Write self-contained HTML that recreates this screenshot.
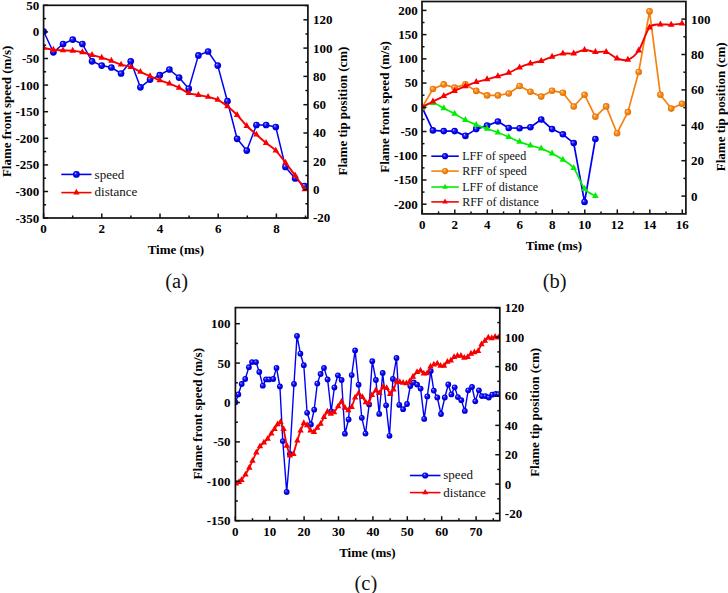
<!DOCTYPE html>
<html><head><meta charset="utf-8"><title>Flame front speed charts</title>
<style>
html,body{margin:0;padding:0;background:#fff;}
body{width:728px;height:593px;overflow:hidden;}
svg{display:block;font-family:"Liberation Serif", serif;}
</style></head><body>
<svg width="728" height="593" viewBox="0 0 728 593">
<rect width="728" height="593" fill="#fff"/>
<defs>
<clipPath id="ca"><rect x="43.6" y="5.3" width="264.3" height="212.7"/></clipPath>
<clipPath id="cb"><rect x="422.2" y="1.6" width="263.7" height="212.2"/></clipPath>
<clipPath id="cc"><rect x="235.4" y="307.6" width="264.4" height="213.1"/></clipPath>
<radialGradient id="gb" cx="0.5" cy="0.5" r="0.5" fx="0.33" fy="0.3">
<stop offset="0" stop-color="#e0e0ff"/><stop offset="0.28" stop-color="#3434ff"/><stop offset="0.65" stop-color="#0000f0"/><stop offset="1" stop-color="#0000c4"/>
</radialGradient>
<radialGradient id="go" cx="0.5" cy="0.5" r="0.5" fx="0.33" fy="0.3">
<stop offset="0" stop-color="#fff2dc"/><stop offset="0.28" stop-color="#ff9c3c"/><stop offset="0.65" stop-color="#f5820f"/><stop offset="1" stop-color="#d86c00"/>
</radialGradient>
</defs>
<g clip-path="url(#ca)">
<polyline points="43.7,31.5 53.37,52.3 63.04,44 72.71,39.6 82.38,44 92.05,61.3 101.72,65.6 111.39,67.5 121.06,73.5 130.73,61.3 140.4,87.3 150.07,79.6 159.74,75.2 169.41,69.5 179.08,77.6 188.75,88.7 198.42,55.4 208.09,51.5 217.76,65.6 227.43,101.2 237.1,138.8 246.77,150.6 256.44,125 266.11,125 275.78,127 285.45,166.9 295.12,178.4 304.79,186" fill="none" stroke="#0000f4" stroke-width="1.5" stroke-linejoin="round" stroke-linecap="round"/>
<circle cx="43.7" cy="31.5" r="3.35" fill="url(#gb)"/>
<circle cx="53.37" cy="52.3" r="3.35" fill="url(#gb)"/>
<circle cx="63.04" cy="44" r="3.35" fill="url(#gb)"/>
<circle cx="72.71" cy="39.6" r="3.35" fill="url(#gb)"/>
<circle cx="82.38" cy="44" r="3.35" fill="url(#gb)"/>
<circle cx="92.05" cy="61.3" r="3.35" fill="url(#gb)"/>
<circle cx="101.72" cy="65.6" r="3.35" fill="url(#gb)"/>
<circle cx="111.39" cy="67.5" r="3.35" fill="url(#gb)"/>
<circle cx="121.06" cy="73.5" r="3.35" fill="url(#gb)"/>
<circle cx="130.73" cy="61.3" r="3.35" fill="url(#gb)"/>
<circle cx="140.4" cy="87.3" r="3.35" fill="url(#gb)"/>
<circle cx="150.07" cy="79.6" r="3.35" fill="url(#gb)"/>
<circle cx="159.74" cy="75.2" r="3.35" fill="url(#gb)"/>
<circle cx="169.41" cy="69.5" r="3.35" fill="url(#gb)"/>
<circle cx="179.08" cy="77.6" r="3.35" fill="url(#gb)"/>
<circle cx="188.75" cy="88.7" r="3.35" fill="url(#gb)"/>
<circle cx="198.42" cy="55.4" r="3.35" fill="url(#gb)"/>
<circle cx="208.09" cy="51.5" r="3.35" fill="url(#gb)"/>
<circle cx="217.76" cy="65.6" r="3.35" fill="url(#gb)"/>
<circle cx="227.43" cy="101.2" r="3.35" fill="url(#gb)"/>
<circle cx="237.1" cy="138.8" r="3.35" fill="url(#gb)"/>
<circle cx="246.77" cy="150.6" r="3.35" fill="url(#gb)"/>
<circle cx="256.44" cy="125" r="3.35" fill="url(#gb)"/>
<circle cx="266.11" cy="125" r="3.35" fill="url(#gb)"/>
<circle cx="275.78" cy="127" r="3.35" fill="url(#gb)"/>
<circle cx="285.45" cy="166.9" r="3.35" fill="url(#gb)"/>
<circle cx="295.12" cy="178.4" r="3.35" fill="url(#gb)"/>
<circle cx="304.79" cy="186" r="3.35" fill="url(#gb)"/>
<path d="M43.7 47.9 C45.31 48.22 50.15 49.38 53.37 49.8 C56.59 50.22 59.82 50.23 63.04 50.4 C66.26 50.57 69.49 50.48 72.71 50.8 C75.93 51.12 79.16 51.6 82.38 52.3 C85.6 53 88.83 54.1 92.05 55 C95.27 55.9 98.5 56.73 101.72 57.7 C104.94 58.67 108.17 59.65 111.39 60.8 C114.61 61.95 117.84 63.55 121.06 64.6 C124.28 65.65 127.51 65.88 130.73 67.1 C133.95 68.32 137.18 70.38 140.4 71.9 C143.62 73.42 146.85 74.82 150.07 76.2 C153.29 77.58 156.52 78.97 159.74 80.2 C162.96 81.43 166.19 82.35 169.41 83.6 C172.63 84.85 175.86 86.12 179.08 87.7 C182.3 89.28 185.53 91.88 188.75 93.1 C191.97 94.32 195.2 94.37 198.42 95 C201.64 95.63 204.87 96.1 208.09 96.9 C211.31 97.7 214.54 98.25 217.76 99.8 C220.98 101.35 224.21 103.67 227.43 106.2 C230.65 108.73 233.88 111.7 237.1 115 C240.32 118.3 243.55 122.73 246.77 126 C249.99 129.27 253.22 131.77 256.44 134.6 C259.66 137.43 262.89 140.33 266.11 143 C269.33 145.67 272.56 147.32 275.78 150.6 C279 153.88 282.23 158.55 285.45 162.7 C288.67 166.85 291.9 171.05 295.12 175.5 C298.34 179.95 303.18 187.08 304.79 189.4" fill="none" stroke="#f80000" stroke-width="1.9" stroke-linejoin="round" stroke-linecap="round"/>
<path d="M43.7 43.97L46.95 49.87L40.45 49.87Z" fill="#f80000"/>
<path d="M53.37 45.87L56.62 51.77L50.12 51.77Z" fill="#f80000"/>
<path d="M63.04 46.47L66.29 52.37L59.79 52.37Z" fill="#f80000"/>
<path d="M72.71 46.87L75.96 52.77L69.46 52.77Z" fill="#f80000"/>
<path d="M82.38 48.37L85.63 54.27L79.13 54.27Z" fill="#f80000"/>
<path d="M92.05 51.07L95.3 56.97L88.8 56.97Z" fill="#f80000"/>
<path d="M101.72 53.77L104.97 59.67L98.47 59.67Z" fill="#f80000"/>
<path d="M111.39 56.87L114.64 62.77L108.14 62.77Z" fill="#f80000"/>
<path d="M121.06 60.67L124.31 66.57L117.81 66.57Z" fill="#f80000"/>
<path d="M130.73 63.17L133.98 69.07L127.48 69.07Z" fill="#f80000"/>
<path d="M140.4 67.97L143.65 73.87L137.15 73.87Z" fill="#f80000"/>
<path d="M150.07 72.27L153.32 78.17L146.82 78.17Z" fill="#f80000"/>
<path d="M159.74 76.27L162.99 82.17L156.49 82.17Z" fill="#f80000"/>
<path d="M169.41 79.67L172.66 85.57L166.16 85.57Z" fill="#f80000"/>
<path d="M179.08 83.77L182.33 89.67L175.83 89.67Z" fill="#f80000"/>
<path d="M188.75 89.17L192 95.07L185.5 95.07Z" fill="#f80000"/>
<path d="M198.42 91.07L201.67 96.97L195.17 96.97Z" fill="#f80000"/>
<path d="M208.09 92.97L211.34 98.87L204.84 98.87Z" fill="#f80000"/>
<path d="M217.76 95.87L221.01 101.77L214.51 101.77Z" fill="#f80000"/>
<path d="M227.43 102.27L230.68 108.17L224.18 108.17Z" fill="#f80000"/>
<path d="M237.1 111.07L240.35 116.97L233.85 116.97Z" fill="#f80000"/>
<path d="M246.77 122.07L250.02 127.97L243.52 127.97Z" fill="#f80000"/>
<path d="M256.44 130.67L259.69 136.57L253.19 136.57Z" fill="#f80000"/>
<path d="M266.11 139.07L269.36 144.97L262.86 144.97Z" fill="#f80000"/>
<path d="M275.78 146.67L279.03 152.57L272.53 152.57Z" fill="#f80000"/>
<path d="M285.45 158.77L288.7 164.67L282.2 164.67Z" fill="#f80000"/>
<path d="M295.12 171.57L298.37 177.47L291.87 177.47Z" fill="#f80000"/>
<path d="M304.79 185.47L308.04 191.37L301.54 191.37Z" fill="#f80000"/>
</g>
<rect x="43.6" y="5.3" width="264.3" height="212.7" fill="none" stroke="#111" stroke-width="1.7"/>
<line x1="43.6" y1="218.1" x2="48.1" y2="218.1" stroke="#111" stroke-width="1.5"/>
<line x1="43.6" y1="191.5" x2="48.1" y2="191.5" stroke="#111" stroke-width="1.5"/>
<line x1="43.6" y1="164.9" x2="48.1" y2="164.9" stroke="#111" stroke-width="1.5"/>
<line x1="43.6" y1="138.3" x2="48.1" y2="138.3" stroke="#111" stroke-width="1.5"/>
<line x1="43.6" y1="111.7" x2="48.1" y2="111.7" stroke="#111" stroke-width="1.5"/>
<line x1="43.6" y1="85.1" x2="48.1" y2="85.1" stroke="#111" stroke-width="1.5"/>
<line x1="43.6" y1="58.5" x2="48.1" y2="58.5" stroke="#111" stroke-width="1.5"/>
<line x1="43.6" y1="31.9" x2="48.1" y2="31.9" stroke="#111" stroke-width="1.5"/>
<line x1="43.6" y1="5.3" x2="48.1" y2="5.3" stroke="#111" stroke-width="1.5"/>
<line x1="43.6" y1="204.8" x2="46.1" y2="204.8" stroke="#111" stroke-width="1.5"/>
<line x1="43.6" y1="178.2" x2="46.1" y2="178.2" stroke="#111" stroke-width="1.5"/>
<line x1="43.6" y1="151.6" x2="46.1" y2="151.6" stroke="#111" stroke-width="1.5"/>
<line x1="43.6" y1="125" x2="46.1" y2="125" stroke="#111" stroke-width="1.5"/>
<line x1="43.6" y1="98.4" x2="46.1" y2="98.4" stroke="#111" stroke-width="1.5"/>
<line x1="43.6" y1="71.8" x2="46.1" y2="71.8" stroke="#111" stroke-width="1.5"/>
<line x1="43.6" y1="45.2" x2="46.1" y2="45.2" stroke="#111" stroke-width="1.5"/>
<line x1="43.6" y1="18.6" x2="46.1" y2="18.6" stroke="#111" stroke-width="1.5"/>
<line x1="43.6" y1="218" x2="43.6" y2="213.5" stroke="#111" stroke-width="1.5"/>
<line x1="101.8" y1="218" x2="101.8" y2="213.5" stroke="#111" stroke-width="1.5"/>
<line x1="160" y1="218" x2="160" y2="213.5" stroke="#111" stroke-width="1.5"/>
<line x1="218.2" y1="218" x2="218.2" y2="213.5" stroke="#111" stroke-width="1.5"/>
<line x1="276.4" y1="218" x2="276.4" y2="213.5" stroke="#111" stroke-width="1.5"/>
<line x1="72.7" y1="218" x2="72.7" y2="215.5" stroke="#111" stroke-width="1.5"/>
<line x1="130.9" y1="218" x2="130.9" y2="215.5" stroke="#111" stroke-width="1.5"/>
<line x1="189.1" y1="218" x2="189.1" y2="215.5" stroke="#111" stroke-width="1.5"/>
<line x1="247.3" y1="218" x2="247.3" y2="215.5" stroke="#111" stroke-width="1.5"/>
<line x1="305.5" y1="218" x2="305.5" y2="215.5" stroke="#111" stroke-width="1.5"/>
<line x1="307.9" y1="217.9" x2="303.4" y2="217.9" stroke="#111" stroke-width="1.5"/>
<line x1="307.9" y1="189.6" x2="303.4" y2="189.6" stroke="#111" stroke-width="1.5"/>
<line x1="307.9" y1="161.3" x2="303.4" y2="161.3" stroke="#111" stroke-width="1.5"/>
<line x1="307.9" y1="133" x2="303.4" y2="133" stroke="#111" stroke-width="1.5"/>
<line x1="307.9" y1="104.7" x2="303.4" y2="104.7" stroke="#111" stroke-width="1.5"/>
<line x1="307.9" y1="76.4" x2="303.4" y2="76.4" stroke="#111" stroke-width="1.5"/>
<line x1="307.9" y1="48.1" x2="303.4" y2="48.1" stroke="#111" stroke-width="1.5"/>
<line x1="307.9" y1="19.8" x2="303.4" y2="19.8" stroke="#111" stroke-width="1.5"/>
<line x1="307.9" y1="203.75" x2="305.4" y2="203.75" stroke="#111" stroke-width="1.5"/>
<line x1="307.9" y1="175.45" x2="305.4" y2="175.45" stroke="#111" stroke-width="1.5"/>
<line x1="307.9" y1="147.15" x2="305.4" y2="147.15" stroke="#111" stroke-width="1.5"/>
<line x1="307.9" y1="118.85" x2="305.4" y2="118.85" stroke="#111" stroke-width="1.5"/>
<line x1="307.9" y1="90.55" x2="305.4" y2="90.55" stroke="#111" stroke-width="1.5"/>
<line x1="307.9" y1="62.25" x2="305.4" y2="62.25" stroke="#111" stroke-width="1.5"/>
<line x1="307.9" y1="33.95" x2="305.4" y2="33.95" stroke="#111" stroke-width="1.5"/>
<line x1="307.9" y1="5.65" x2="305.4" y2="5.65" stroke="#111" stroke-width="1.5"/>
<text x="39.3" y="222.5" font-size="13" font-weight="bold" text-anchor="end" fill="#000">-350</text>
<text x="39.3" y="195.9" font-size="13" font-weight="bold" text-anchor="end" fill="#000">-300</text>
<text x="39.3" y="169.3" font-size="13" font-weight="bold" text-anchor="end" fill="#000">-250</text>
<text x="39.3" y="142.7" font-size="13" font-weight="bold" text-anchor="end" fill="#000">-200</text>
<text x="39.3" y="116.1" font-size="13" font-weight="bold" text-anchor="end" fill="#000">-150</text>
<text x="39.3" y="89.5" font-size="13" font-weight="bold" text-anchor="end" fill="#000">-100</text>
<text x="39.3" y="62.9" font-size="13" font-weight="bold" text-anchor="end" fill="#000">-50</text>
<text x="39.3" y="36.3" font-size="13" font-weight="bold" text-anchor="end" fill="#000">0</text>
<text x="39.3" y="9.7" font-size="13" font-weight="bold" text-anchor="end" fill="#000">50</text>
<text x="43.6" y="233" font-size="13" font-weight="bold" text-anchor="middle" fill="#000">0</text>
<text x="101.8" y="233" font-size="13" font-weight="bold" text-anchor="middle" fill="#000">2</text>
<text x="160" y="233" font-size="13" font-weight="bold" text-anchor="middle" fill="#000">4</text>
<text x="218.2" y="233" font-size="13" font-weight="bold" text-anchor="middle" fill="#000">6</text>
<text x="276.4" y="233" font-size="13" font-weight="bold" text-anchor="middle" fill="#000">8</text>
<text x="313" y="222.3" font-size="13" font-weight="bold" text-anchor="start" fill="#000">-20</text>
<text x="313" y="194" font-size="13" font-weight="bold" text-anchor="start" fill="#000">0</text>
<text x="313" y="165.7" font-size="13" font-weight="bold" text-anchor="start" fill="#000">20</text>
<text x="313" y="137.4" font-size="13" font-weight="bold" text-anchor="start" fill="#000">40</text>
<text x="313" y="109.1" font-size="13" font-weight="bold" text-anchor="start" fill="#000">60</text>
<text x="313" y="80.8" font-size="13" font-weight="bold" text-anchor="start" fill="#000">80</text>
<text x="313" y="52.5" font-size="13" font-weight="bold" text-anchor="start" fill="#000">100</text>
<text x="313" y="24.2" font-size="13" font-weight="bold" text-anchor="start" fill="#000">120</text>
<text x="175.9" y="254.2" font-size="13" font-weight="bold" text-anchor="middle" fill="#000">Time (ms)</text>
<text transform="translate(10.8 111.35) rotate(-90)" font-size="13" font-weight="bold" text-anchor="middle" fill="#000">Flame front speed (m/s)</text>
<text transform="translate(346.6 111) rotate(-90)" font-size="13" font-weight="bold" text-anchor="middle" fill="#000">Flame tip position (cm)</text>
<text x="176.6" y="288" font-size="20.5" font-weight="normal" text-anchor="middle" fill="#111">(a)</text>
<line x1="61.3" y1="174.4" x2="91.5" y2="174.4" stroke="#0000f4" stroke-width="1.6"/>
<circle cx="76.4" cy="174.4" r="3.4" fill="url(#gb)"/>
<text x="94.6" y="178.6" font-size="13" font-weight="normal" text-anchor="start" fill="#111">speed</text>
<line x1="61.3" y1="192.6" x2="91.5" y2="192.6" stroke="#f80000" stroke-width="1.6"/>
<path d="M76.4 188.87L79.6 194.47L73.2 194.47Z" fill="#f80000"/>
<text x="94.6" y="196.4" font-size="13" font-weight="normal" text-anchor="start" fill="#111">distance</text>
<g clip-path="url(#cb)">
<polyline points="422.1,107.4 432.93,130.4 443.76,131.1 454.59,131.1 465.42,135.9 476.25,129.1 487.08,125.6 497.91,121.5 508.74,128 519.57,128.2 530.4,127.3 541.23,119.5 552.06,129.1 562.89,134.3 573.72,143.1 584.55,202 595.38,139" fill="none" stroke="#0000f4" stroke-width="1.7" stroke-linejoin="round" stroke-linecap="round"/>
<circle cx="422.1" cy="107.4" r="3.3" fill="url(#gb)"/>
<circle cx="432.93" cy="130.4" r="3.3" fill="url(#gb)"/>
<circle cx="443.76" cy="131.1" r="3.3" fill="url(#gb)"/>
<circle cx="454.59" cy="131.1" r="3.3" fill="url(#gb)"/>
<circle cx="465.42" cy="135.9" r="3.3" fill="url(#gb)"/>
<circle cx="476.25" cy="129.1" r="3.3" fill="url(#gb)"/>
<circle cx="487.08" cy="125.6" r="3.3" fill="url(#gb)"/>
<circle cx="497.91" cy="121.5" r="3.3" fill="url(#gb)"/>
<circle cx="508.74" cy="128" r="3.3" fill="url(#gb)"/>
<circle cx="519.57" cy="128.2" r="3.3" fill="url(#gb)"/>
<circle cx="530.4" cy="127.3" r="3.3" fill="url(#gb)"/>
<circle cx="541.23" cy="119.5" r="3.3" fill="url(#gb)"/>
<circle cx="552.06" cy="129.1" r="3.3" fill="url(#gb)"/>
<circle cx="562.89" cy="134.3" r="3.3" fill="url(#gb)"/>
<circle cx="573.72" cy="143.1" r="3.3" fill="url(#gb)"/>
<circle cx="584.55" cy="202" r="3.3" fill="url(#gb)"/>
<circle cx="595.38" cy="139" r="3.3" fill="url(#gb)"/>
<polyline points="422.1,107.4 432.93,89 443.76,84.4 454.59,87.6 465.42,84.4 476.25,90.9 487.08,95.4 497.91,95.4 508.74,93.5 519.57,86 530.4,91.8 541.23,96.6 552.06,90.7 562.89,92.8 573.72,106.5 584.55,94.7 595.38,116.8 606.21,106.4 617.04,133.2 627.87,112.1 638.7,72 649.53,11.4 660.36,94.8 671.19,108.6 682.02,103.75" fill="none" stroke="#f5820f" stroke-width="1.7" stroke-linejoin="round" stroke-linecap="round"/>
<circle cx="422.1" cy="107.4" r="3.3" fill="url(#go)"/>
<circle cx="432.93" cy="89" r="3.3" fill="url(#go)"/>
<circle cx="443.76" cy="84.4" r="3.3" fill="url(#go)"/>
<circle cx="454.59" cy="87.6" r="3.3" fill="url(#go)"/>
<circle cx="465.42" cy="84.4" r="3.3" fill="url(#go)"/>
<circle cx="476.25" cy="90.9" r="3.3" fill="url(#go)"/>
<circle cx="487.08" cy="95.4" r="3.3" fill="url(#go)"/>
<circle cx="497.91" cy="95.4" r="3.3" fill="url(#go)"/>
<circle cx="508.74" cy="93.5" r="3.3" fill="url(#go)"/>
<circle cx="519.57" cy="86" r="3.3" fill="url(#go)"/>
<circle cx="530.4" cy="91.8" r="3.3" fill="url(#go)"/>
<circle cx="541.23" cy="96.6" r="3.3" fill="url(#go)"/>
<circle cx="552.06" cy="90.7" r="3.3" fill="url(#go)"/>
<circle cx="562.89" cy="92.8" r="3.3" fill="url(#go)"/>
<circle cx="573.72" cy="106.5" r="3.3" fill="url(#go)"/>
<circle cx="584.55" cy="94.7" r="3.3" fill="url(#go)"/>
<circle cx="595.38" cy="116.8" r="3.3" fill="url(#go)"/>
<circle cx="606.21" cy="106.4" r="3.3" fill="url(#go)"/>
<circle cx="617.04" cy="133.2" r="3.3" fill="url(#go)"/>
<circle cx="627.87" cy="112.1" r="3.3" fill="url(#go)"/>
<circle cx="638.7" cy="72" r="3.3" fill="url(#go)"/>
<circle cx="649.53" cy="11.4" r="3.3" fill="url(#go)"/>
<circle cx="660.36" cy="94.8" r="3.3" fill="url(#go)"/>
<circle cx="671.19" cy="108.6" r="3.3" fill="url(#go)"/>
<circle cx="682.02" cy="103.75" r="3.3" fill="url(#go)"/>
<path d="M422.1 107.4 C423.91 106.67 429.32 102.87 432.93 103 C436.54 103.13 440.15 106.42 443.76 108.2 C447.37 109.98 450.98 111.72 454.59 113.7 C458.2 115.68 461.81 118.23 465.42 120.1 C469.03 121.97 472.64 123.45 476.25 124.9 C479.86 126.35 483.47 127.53 487.08 128.8 C490.69 130.07 494.3 131.13 497.91 132.5 C501.52 133.87 505.13 135.47 508.74 137 C512.35 138.53 515.96 140.28 519.57 141.7 C523.18 143.12 526.79 144.35 530.4 145.5 C534.01 146.65 537.62 147.28 541.23 148.6 C544.84 149.92 548.45 151.55 552.06 153.4 C555.67 155.25 559.28 157.25 562.89 159.7 C566.5 162.15 570.11 163.27 573.72 168.1 C577.33 172.93 580.94 184.03 584.55 188.7 C588.16 193.37 593.58 194.87 595.38 196.1" fill="none" stroke="#00ee00" stroke-width="1.7" stroke-linejoin="round" stroke-linecap="round"/>
<path d="M422.1 103.4L425.4 109.4L418.8 109.4Z" fill="#00ee00"/>
<path d="M432.93 99L436.23 105L429.63 105Z" fill="#00ee00"/>
<path d="M443.76 104.2L447.06 110.2L440.46 110.2Z" fill="#00ee00"/>
<path d="M454.59 109.7L457.89 115.7L451.29 115.7Z" fill="#00ee00"/>
<path d="M465.42 116.1L468.72 122.1L462.12 122.1Z" fill="#00ee00"/>
<path d="M476.25 120.9L479.55 126.9L472.95 126.9Z" fill="#00ee00"/>
<path d="M487.08 124.8L490.38 130.8L483.78 130.8Z" fill="#00ee00"/>
<path d="M497.91 128.5L501.21 134.5L494.61 134.5Z" fill="#00ee00"/>
<path d="M508.74 133L512.04 139L505.44 139Z" fill="#00ee00"/>
<path d="M519.57 137.7L522.87 143.7L516.27 143.7Z" fill="#00ee00"/>
<path d="M530.4 141.5L533.7 147.5L527.1 147.5Z" fill="#00ee00"/>
<path d="M541.23 144.6L544.53 150.6L537.93 150.6Z" fill="#00ee00"/>
<path d="M552.06 149.4L555.36 155.4L548.76 155.4Z" fill="#00ee00"/>
<path d="M562.89 155.7L566.19 161.7L559.59 161.7Z" fill="#00ee00"/>
<path d="M573.72 164.1L577.02 170.1L570.42 170.1Z" fill="#00ee00"/>
<path d="M584.55 184.7L587.85 190.7L581.25 190.7Z" fill="#00ee00"/>
<path d="M595.38 192.1L598.68 198.1L592.08 198.1Z" fill="#00ee00"/>
<path d="M422.1 106.8 C423.91 105.93 429.32 103.38 432.93 101.6 C436.54 99.82 440.15 97.88 443.76 96.1 C447.37 94.32 450.98 92.55 454.59 90.9 C458.2 89.25 461.81 87.67 465.42 86.2 C469.03 84.73 472.64 83.25 476.25 82.1 C479.86 80.95 483.47 80.28 487.08 79.3 C490.69 78.32 494.3 77.28 497.91 76.2 C501.52 75.12 505.13 74.27 508.74 72.8 C512.35 71.33 515.96 68.97 519.57 67.4 C523.18 65.83 526.79 64.47 530.4 63.4 C534.01 62.33 537.62 62.1 541.23 61 C544.84 59.9 548.45 58.03 552.06 56.8 C555.67 55.57 559.28 54.17 562.89 53.6 C566.5 53.03 570.11 54.02 573.72 53.4 C577.33 52.78 580.94 50.12 584.55 49.9 C588.16 49.68 591.77 51.77 595.38 52.1 C598.99 52.43 602.6 50.85 606.21 51.9 C609.82 52.95 613.43 57.08 617.04 58.4 C620.65 59.72 624.26 61.12 627.87 59.8 C631.48 58.48 635.09 55.88 638.7 50.5 C642.31 45.12 645.92 31.83 649.53 27.5 C653.14 23.17 656.75 24.97 660.36 24.5 C663.97 24.03 667.58 24.85 671.19 24.7 C674.8 24.55 680.22 23.78 682.02 23.6" fill="none" stroke="#f80000" stroke-width="1.9" stroke-linejoin="round" stroke-linecap="round"/>
<path d="M422.1 102.8L425.4 108.8L418.8 108.8Z" fill="#f80000"/>
<path d="M432.93 97.6L436.23 103.6L429.63 103.6Z" fill="#f80000"/>
<path d="M443.76 92.1L447.06 98.1L440.46 98.1Z" fill="#f80000"/>
<path d="M454.59 86.9L457.89 92.9L451.29 92.9Z" fill="#f80000"/>
<path d="M465.42 82.2L468.72 88.2L462.12 88.2Z" fill="#f80000"/>
<path d="M476.25 78.1L479.55 84.1L472.95 84.1Z" fill="#f80000"/>
<path d="M487.08 75.3L490.38 81.3L483.78 81.3Z" fill="#f80000"/>
<path d="M497.91 72.2L501.21 78.2L494.61 78.2Z" fill="#f80000"/>
<path d="M508.74 68.8L512.04 74.8L505.44 74.8Z" fill="#f80000"/>
<path d="M519.57 63.4L522.87 69.4L516.27 69.4Z" fill="#f80000"/>
<path d="M530.4 59.4L533.7 65.4L527.1 65.4Z" fill="#f80000"/>
<path d="M541.23 57L544.53 63L537.93 63Z" fill="#f80000"/>
<path d="M552.06 52.8L555.36 58.8L548.76 58.8Z" fill="#f80000"/>
<path d="M562.89 49.6L566.19 55.6L559.59 55.6Z" fill="#f80000"/>
<path d="M573.72 49.4L577.02 55.4L570.42 55.4Z" fill="#f80000"/>
<path d="M584.55 45.9L587.85 51.9L581.25 51.9Z" fill="#f80000"/>
<path d="M595.38 48.1L598.68 54.1L592.08 54.1Z" fill="#f80000"/>
<path d="M606.21 47.9L609.51 53.9L602.91 53.9Z" fill="#f80000"/>
<path d="M617.04 54.4L620.34 60.4L613.74 60.4Z" fill="#f80000"/>
<path d="M627.87 55.8L631.17 61.8L624.57 61.8Z" fill="#f80000"/>
<path d="M638.7 46.5L642 52.5L635.4 52.5Z" fill="#f80000"/>
<path d="M649.53 23.5L652.83 29.5L646.23 29.5Z" fill="#f80000"/>
<path d="M660.36 20.5L663.66 26.5L657.06 26.5Z" fill="#f80000"/>
<path d="M671.19 20.7L674.49 26.7L667.89 26.7Z" fill="#f80000"/>
<path d="M682.02 19.6L685.32 25.6L678.72 25.6Z" fill="#f80000"/>
</g>
<rect x="422" y="1.5" width="263.9" height="212.4" fill="none" stroke="#111" stroke-width="1.7"/>
<line x1="422" y1="204.2" x2="426.5" y2="204.2" stroke="#111" stroke-width="1.5"/>
<line x1="422" y1="179.97" x2="426.5" y2="179.97" stroke="#111" stroke-width="1.5"/>
<line x1="422" y1="155.75" x2="426.5" y2="155.75" stroke="#111" stroke-width="1.5"/>
<line x1="422" y1="131.53" x2="426.5" y2="131.53" stroke="#111" stroke-width="1.5"/>
<line x1="422" y1="107.3" x2="426.5" y2="107.3" stroke="#111" stroke-width="1.5"/>
<line x1="422" y1="83.07" x2="426.5" y2="83.07" stroke="#111" stroke-width="1.5"/>
<line x1="422" y1="58.85" x2="426.5" y2="58.85" stroke="#111" stroke-width="1.5"/>
<line x1="422" y1="34.62" x2="426.5" y2="34.62" stroke="#111" stroke-width="1.5"/>
<line x1="422" y1="10.4" x2="426.5" y2="10.4" stroke="#111" stroke-width="1.5"/>
<line x1="422" y1="192.09" x2="424.5" y2="192.09" stroke="#111" stroke-width="1.5"/>
<line x1="422" y1="167.86" x2="424.5" y2="167.86" stroke="#111" stroke-width="1.5"/>
<line x1="422" y1="143.64" x2="424.5" y2="143.64" stroke="#111" stroke-width="1.5"/>
<line x1="422" y1="119.41" x2="424.5" y2="119.41" stroke="#111" stroke-width="1.5"/>
<line x1="422" y1="95.19" x2="424.5" y2="95.19" stroke="#111" stroke-width="1.5"/>
<line x1="422" y1="70.96" x2="424.5" y2="70.96" stroke="#111" stroke-width="1.5"/>
<line x1="422" y1="46.74" x2="424.5" y2="46.74" stroke="#111" stroke-width="1.5"/>
<line x1="422" y1="22.51" x2="424.5" y2="22.51" stroke="#111" stroke-width="1.5"/>
<line x1="422.3" y1="213.9" x2="422.3" y2="209.4" stroke="#111" stroke-width="1.5"/>
<line x1="454.8" y1="213.9" x2="454.8" y2="209.4" stroke="#111" stroke-width="1.5"/>
<line x1="487.3" y1="213.9" x2="487.3" y2="209.4" stroke="#111" stroke-width="1.5"/>
<line x1="519.8" y1="213.9" x2="519.8" y2="209.4" stroke="#111" stroke-width="1.5"/>
<line x1="552.3" y1="213.9" x2="552.3" y2="209.4" stroke="#111" stroke-width="1.5"/>
<line x1="584.8" y1="213.9" x2="584.8" y2="209.4" stroke="#111" stroke-width="1.5"/>
<line x1="617.3" y1="213.9" x2="617.3" y2="209.4" stroke="#111" stroke-width="1.5"/>
<line x1="649.8" y1="213.9" x2="649.8" y2="209.4" stroke="#111" stroke-width="1.5"/>
<line x1="682.3" y1="213.9" x2="682.3" y2="209.4" stroke="#111" stroke-width="1.5"/>
<line x1="438.55" y1="213.9" x2="438.55" y2="211.4" stroke="#111" stroke-width="1.5"/>
<line x1="471.05" y1="213.9" x2="471.05" y2="211.4" stroke="#111" stroke-width="1.5"/>
<line x1="503.55" y1="213.9" x2="503.55" y2="211.4" stroke="#111" stroke-width="1.5"/>
<line x1="536.05" y1="213.9" x2="536.05" y2="211.4" stroke="#111" stroke-width="1.5"/>
<line x1="568.55" y1="213.9" x2="568.55" y2="211.4" stroke="#111" stroke-width="1.5"/>
<line x1="601.05" y1="213.9" x2="601.05" y2="211.4" stroke="#111" stroke-width="1.5"/>
<line x1="633.55" y1="213.9" x2="633.55" y2="211.4" stroke="#111" stroke-width="1.5"/>
<line x1="666.05" y1="213.9" x2="666.05" y2="211.4" stroke="#111" stroke-width="1.5"/>
<line x1="685.9" y1="196.1" x2="681.4" y2="196.1" stroke="#111" stroke-width="1.5"/>
<line x1="685.9" y1="160.7" x2="681.4" y2="160.7" stroke="#111" stroke-width="1.5"/>
<line x1="685.9" y1="125.3" x2="681.4" y2="125.3" stroke="#111" stroke-width="1.5"/>
<line x1="685.9" y1="89.9" x2="681.4" y2="89.9" stroke="#111" stroke-width="1.5"/>
<line x1="685.9" y1="54.5" x2="681.4" y2="54.5" stroke="#111" stroke-width="1.5"/>
<line x1="685.9" y1="19.1" x2="681.4" y2="19.1" stroke="#111" stroke-width="1.5"/>
<line x1="685.9" y1="178.4" x2="683.4" y2="178.4" stroke="#111" stroke-width="1.5"/>
<line x1="685.9" y1="143" x2="683.4" y2="143" stroke="#111" stroke-width="1.5"/>
<line x1="685.9" y1="107.6" x2="683.4" y2="107.6" stroke="#111" stroke-width="1.5"/>
<line x1="685.9" y1="72.2" x2="683.4" y2="72.2" stroke="#111" stroke-width="1.5"/>
<line x1="685.9" y1="36.8" x2="683.4" y2="36.8" stroke="#111" stroke-width="1.5"/>
<text x="417.8" y="208.6" font-size="13" font-weight="bold" text-anchor="end" fill="#000">-200</text>
<text x="417.8" y="184.38" font-size="13" font-weight="bold" text-anchor="end" fill="#000">-150</text>
<text x="417.8" y="160.15" font-size="13" font-weight="bold" text-anchor="end" fill="#000">-100</text>
<text x="417.8" y="135.93" font-size="13" font-weight="bold" text-anchor="end" fill="#000">-50</text>
<text x="417.8" y="111.7" font-size="13" font-weight="bold" text-anchor="end" fill="#000">0</text>
<text x="417.8" y="87.47" font-size="13" font-weight="bold" text-anchor="end" fill="#000">50</text>
<text x="417.8" y="63.25" font-size="13" font-weight="bold" text-anchor="end" fill="#000">100</text>
<text x="417.8" y="39.02" font-size="13" font-weight="bold" text-anchor="end" fill="#000">150</text>
<text x="417.8" y="14.8" font-size="13" font-weight="bold" text-anchor="end" fill="#000">200</text>
<text x="422.3" y="229.1" font-size="13" font-weight="bold" text-anchor="middle" fill="#000">0</text>
<text x="454.8" y="229.1" font-size="13" font-weight="bold" text-anchor="middle" fill="#000">2</text>
<text x="487.3" y="229.1" font-size="13" font-weight="bold" text-anchor="middle" fill="#000">4</text>
<text x="519.8" y="229.1" font-size="13" font-weight="bold" text-anchor="middle" fill="#000">6</text>
<text x="552.3" y="229.1" font-size="13" font-weight="bold" text-anchor="middle" fill="#000">8</text>
<text x="584.8" y="229.1" font-size="13" font-weight="bold" text-anchor="middle" fill="#000">10</text>
<text x="617.3" y="229.1" font-size="13" font-weight="bold" text-anchor="middle" fill="#000">12</text>
<text x="649.8" y="229.1" font-size="13" font-weight="bold" text-anchor="middle" fill="#000">14</text>
<text x="682.3" y="229.1" font-size="13" font-weight="bold" text-anchor="middle" fill="#000">16</text>
<text x="691" y="200.5" font-size="13" font-weight="bold" text-anchor="start" fill="#000">0</text>
<text x="691" y="165.1" font-size="13" font-weight="bold" text-anchor="start" fill="#000">20</text>
<text x="691" y="129.7" font-size="13" font-weight="bold" text-anchor="start" fill="#000">40</text>
<text x="691" y="94.3" font-size="13" font-weight="bold" text-anchor="start" fill="#000">60</text>
<text x="691" y="58.9" font-size="13" font-weight="bold" text-anchor="start" fill="#000">80</text>
<text x="691" y="23.5" font-size="13" font-weight="bold" text-anchor="start" fill="#000">100</text>
<text x="553.9" y="250.4" font-size="13" font-weight="bold" text-anchor="middle" fill="#000">Time (ms)</text>
<text transform="translate(388.6 107) rotate(-90)" font-size="13" font-weight="bold" text-anchor="middle" fill="#000">Flame front speed (m/s)</text>
<text transform="translate(724.9 106.8) rotate(-90)" font-size="13" font-weight="bold" text-anchor="middle" fill="#000">Flame tip position (cm)</text>
<text x="554.6" y="288" font-size="20.5" font-weight="normal" text-anchor="middle" fill="#111">(b)</text>
<line x1="431.3" y1="156.2" x2="458.8" y2="156.2" stroke="#0000f4" stroke-width="1.6"/>
<circle cx="445.05" cy="156.2" r="3.1" fill="url(#gb)"/>
<text x="462.2" y="160.2" font-size="12" font-weight="normal" text-anchor="start" fill="#111">LFF of speed</text>
<line x1="431.3" y1="171.1" x2="458.8" y2="171.1" stroke="#f5820f" stroke-width="1.6"/>
<circle cx="445.05" cy="171.1" r="3.1" fill="url(#go)"/>
<text x="462.2" y="175.1" font-size="12" font-weight="normal" text-anchor="start" fill="#111">RFF of speed</text>
<line x1="431.3" y1="187" x2="458.8" y2="187" stroke="#00ee00" stroke-width="1.6"/>
<path d="M445.05 183.67L447.85 188.67L442.25 188.67Z" fill="#00ee00"/>
<text x="462.2" y="191" font-size="12" font-weight="normal" text-anchor="start" fill="#111">LFF of distance</text>
<line x1="431.3" y1="201.9" x2="458.8" y2="201.9" stroke="#f80000" stroke-width="1.6"/>
<path d="M445.05 198.57L447.85 203.57L442.25 203.57Z" fill="#f80000"/>
<text x="462.2" y="205.9" font-size="12" font-weight="normal" text-anchor="start" fill="#111">RFF of distance</text>
<g clip-path="url(#cc)">
<polyline points="235.5,402.3 238.3,394.5 241.7,384 245.2,379 248.9,367.2 252,362.1 256,362.1 259.3,372 262.8,385.7 266,379.4 269.1,379.4 273.2,379 276.5,367.9 279.9,386.5 282.8,441.1 286.7,492 289.9,454 294,384 297,335.9 300.4,353.7 303.8,365.2 307.1,412.8 310.9,424.5 314.2,409.7 317.3,383.6 320.6,374 324,367.9 327.6,379.5 331.2,411.3 334.4,387.5 337.9,375.3 341.6,380 344.9,433.7 348.6,419.5 351.7,375.1 355.1,350.4 358.6,384.7 361.8,417.8 365.5,433.6 369.2,404.4 372.3,361.2 375.9,380 379.2,413.9 382.7,373 386.1,405.3 389.5,435.8 392.9,378.9 396.5,358 399.3,404.9 403.1,409.2 407,404 410.3,386 413.8,382.5 417.1,384.6 420.6,388.6 424.2,418.9 427.3,396.4 430.8,371.1 433.8,390.6 437.3,397.5 441,414 444.8,397.5 448.3,384.5 451.4,394.4 454.7,387.3 457.9,397.1 461.3,400.2 464.8,410.9 468.2,390.3 472,387 475.3,401.3 478.9,390.3 481.9,396.1 485.4,396.1 488.8,397.5 492.2,394.7 495.7,394 498.6,394.2" fill="none" stroke="#0000f4" stroke-width="1.4" stroke-linejoin="round" stroke-linecap="round"/>
<circle cx="235.5" cy="402.3" r="2.9" fill="url(#gb)"/>
<circle cx="238.3" cy="394.5" r="2.9" fill="url(#gb)"/>
<circle cx="241.7" cy="384" r="2.9" fill="url(#gb)"/>
<circle cx="245.2" cy="379" r="2.9" fill="url(#gb)"/>
<circle cx="248.9" cy="367.2" r="2.9" fill="url(#gb)"/>
<circle cx="252" cy="362.1" r="2.9" fill="url(#gb)"/>
<circle cx="256" cy="362.1" r="2.9" fill="url(#gb)"/>
<circle cx="259.3" cy="372" r="2.9" fill="url(#gb)"/>
<circle cx="262.8" cy="385.7" r="2.9" fill="url(#gb)"/>
<circle cx="266" cy="379.4" r="2.9" fill="url(#gb)"/>
<circle cx="269.1" cy="379.4" r="2.9" fill="url(#gb)"/>
<circle cx="273.2" cy="379" r="2.9" fill="url(#gb)"/>
<circle cx="276.5" cy="367.9" r="2.9" fill="url(#gb)"/>
<circle cx="279.9" cy="386.5" r="2.9" fill="url(#gb)"/>
<circle cx="282.8" cy="441.1" r="2.9" fill="url(#gb)"/>
<circle cx="286.7" cy="492" r="2.9" fill="url(#gb)"/>
<circle cx="289.9" cy="454" r="2.9" fill="url(#gb)"/>
<circle cx="294" cy="384" r="2.9" fill="url(#gb)"/>
<circle cx="297" cy="335.9" r="2.9" fill="url(#gb)"/>
<circle cx="300.4" cy="353.7" r="2.9" fill="url(#gb)"/>
<circle cx="303.8" cy="365.2" r="2.9" fill="url(#gb)"/>
<circle cx="307.1" cy="412.8" r="2.9" fill="url(#gb)"/>
<circle cx="310.9" cy="424.5" r="2.9" fill="url(#gb)"/>
<circle cx="314.2" cy="409.7" r="2.9" fill="url(#gb)"/>
<circle cx="317.3" cy="383.6" r="2.9" fill="url(#gb)"/>
<circle cx="320.6" cy="374" r="2.9" fill="url(#gb)"/>
<circle cx="324" cy="367.9" r="2.9" fill="url(#gb)"/>
<circle cx="327.6" cy="379.5" r="2.9" fill="url(#gb)"/>
<circle cx="331.2" cy="411.3" r="2.9" fill="url(#gb)"/>
<circle cx="334.4" cy="387.5" r="2.9" fill="url(#gb)"/>
<circle cx="337.9" cy="375.3" r="2.9" fill="url(#gb)"/>
<circle cx="341.6" cy="380" r="2.9" fill="url(#gb)"/>
<circle cx="344.9" cy="433.7" r="2.9" fill="url(#gb)"/>
<circle cx="348.6" cy="419.5" r="2.9" fill="url(#gb)"/>
<circle cx="351.7" cy="375.1" r="2.9" fill="url(#gb)"/>
<circle cx="355.1" cy="350.4" r="2.9" fill="url(#gb)"/>
<circle cx="358.6" cy="384.7" r="2.9" fill="url(#gb)"/>
<circle cx="361.8" cy="417.8" r="2.9" fill="url(#gb)"/>
<circle cx="365.5" cy="433.6" r="2.9" fill="url(#gb)"/>
<circle cx="369.2" cy="404.4" r="2.9" fill="url(#gb)"/>
<circle cx="372.3" cy="361.2" r="2.9" fill="url(#gb)"/>
<circle cx="375.9" cy="380" r="2.9" fill="url(#gb)"/>
<circle cx="379.2" cy="413.9" r="2.9" fill="url(#gb)"/>
<circle cx="382.7" cy="373" r="2.9" fill="url(#gb)"/>
<circle cx="386.1" cy="405.3" r="2.9" fill="url(#gb)"/>
<circle cx="389.5" cy="435.8" r="2.9" fill="url(#gb)"/>
<circle cx="392.9" cy="378.9" r="2.9" fill="url(#gb)"/>
<circle cx="396.5" cy="358" r="2.9" fill="url(#gb)"/>
<circle cx="399.3" cy="404.9" r="2.9" fill="url(#gb)"/>
<circle cx="403.1" cy="409.2" r="2.9" fill="url(#gb)"/>
<circle cx="407" cy="404" r="2.9" fill="url(#gb)"/>
<circle cx="410.3" cy="386" r="2.9" fill="url(#gb)"/>
<circle cx="413.8" cy="382.5" r="2.9" fill="url(#gb)"/>
<circle cx="417.1" cy="384.6" r="2.9" fill="url(#gb)"/>
<circle cx="420.6" cy="388.6" r="2.9" fill="url(#gb)"/>
<circle cx="424.2" cy="418.9" r="2.9" fill="url(#gb)"/>
<circle cx="427.3" cy="396.4" r="2.9" fill="url(#gb)"/>
<circle cx="430.8" cy="371.1" r="2.9" fill="url(#gb)"/>
<circle cx="433.8" cy="390.6" r="2.9" fill="url(#gb)"/>
<circle cx="437.3" cy="397.5" r="2.9" fill="url(#gb)"/>
<circle cx="441" cy="414" r="2.9" fill="url(#gb)"/>
<circle cx="444.8" cy="397.5" r="2.9" fill="url(#gb)"/>
<circle cx="448.3" cy="384.5" r="2.9" fill="url(#gb)"/>
<circle cx="451.4" cy="394.4" r="2.9" fill="url(#gb)"/>
<circle cx="454.7" cy="387.3" r="2.9" fill="url(#gb)"/>
<circle cx="457.9" cy="397.1" r="2.9" fill="url(#gb)"/>
<circle cx="461.3" cy="400.2" r="2.9" fill="url(#gb)"/>
<circle cx="464.8" cy="410.9" r="2.9" fill="url(#gb)"/>
<circle cx="468.2" cy="390.3" r="2.9" fill="url(#gb)"/>
<circle cx="472" cy="387" r="2.9" fill="url(#gb)"/>
<circle cx="475.3" cy="401.3" r="2.9" fill="url(#gb)"/>
<circle cx="478.9" cy="390.3" r="2.9" fill="url(#gb)"/>
<circle cx="481.9" cy="396.1" r="2.9" fill="url(#gb)"/>
<circle cx="485.4" cy="396.1" r="2.9" fill="url(#gb)"/>
<circle cx="488.8" cy="397.5" r="2.9" fill="url(#gb)"/>
<circle cx="492.2" cy="394.7" r="2.9" fill="url(#gb)"/>
<circle cx="495.7" cy="394" r="2.9" fill="url(#gb)"/>
<circle cx="498.6" cy="394.2" r="2.9" fill="url(#gb)"/>
<polyline points="236,483.6 239,482 241.5,480 245.5,474.5 249.3,467.7 252.5,460.9 256.3,452.5 260,446.4 263.9,442.6 267.7,438.8 271.3,433.5 274.5,429 277.6,424.4 280.5,422 283.6,429 286.8,445.7 289.9,455.6 293.4,454 297.3,440.5 300.6,430.6 303.8,423.2 307.1,425.2 310.5,430.6 313.9,432 317.3,427.9 320.6,423.9 324,417.1 327.4,411.7 330.8,413.7 334.1,412.4 338.2,406.3 341.6,401.6 344.9,407.7 348.3,410.4 351.7,407 355.1,397.5 358.6,393.3 362.4,397 365.8,402.4 368.8,403.1 371.9,395 375.9,390.2 379.3,393 383.3,386.9 386.7,388 390.1,394 393.5,389.6 396.6,381.5 399.8,382.1 403.1,382.8 406.4,383.4 409.7,381.4 413,376.7 417.1,372 420.5,370.6 423.8,373.5 427.1,373.3 430.5,366.6 433.9,364.5 437.3,363.5 440.6,365.9 444,365.9 447.4,361.8 450.8,360.5 454.1,357.1 457.5,355.8 460.9,355.8 464.3,357.8 467.6,357.1 471,353.7 474.4,352.4 478.1,351 481.5,344.3 484.9,340.9 488.3,337.5 491.7,338.2 495.1,336.9 498.3,337.5" fill="none" stroke="#f80000" stroke-width="1.8" stroke-linejoin="round" stroke-linecap="round"/>
<path d="M236 479.73L239.2 485.53L232.8 485.53Z" fill="#f80000"/>
<path d="M239 478.13L242.2 483.93L235.8 483.93Z" fill="#f80000"/>
<path d="M241.5 476.13L244.7 481.93L238.3 481.93Z" fill="#f80000"/>
<path d="M245.5 470.63L248.7 476.43L242.3 476.43Z" fill="#f80000"/>
<path d="M249.3 463.83L252.5 469.63L246.1 469.63Z" fill="#f80000"/>
<path d="M252.5 457.03L255.7 462.83L249.3 462.83Z" fill="#f80000"/>
<path d="M256.3 448.63L259.5 454.43L253.1 454.43Z" fill="#f80000"/>
<path d="M260 442.53L263.2 448.33L256.8 448.33Z" fill="#f80000"/>
<path d="M263.9 438.73L267.1 444.53L260.7 444.53Z" fill="#f80000"/>
<path d="M267.7 434.93L270.9 440.73L264.5 440.73Z" fill="#f80000"/>
<path d="M271.3 429.63L274.5 435.43L268.1 435.43Z" fill="#f80000"/>
<path d="M274.5 425.13L277.7 430.93L271.3 430.93Z" fill="#f80000"/>
<path d="M277.6 420.53L280.8 426.33L274.4 426.33Z" fill="#f80000"/>
<path d="M280.5 418.13L283.7 423.93L277.3 423.93Z" fill="#f80000"/>
<path d="M283.6 425.13L286.8 430.93L280.4 430.93Z" fill="#f80000"/>
<path d="M286.8 441.83L290 447.63L283.6 447.63Z" fill="#f80000"/>
<path d="M289.9 451.73L293.1 457.53L286.7 457.53Z" fill="#f80000"/>
<path d="M293.4 450.13L296.6 455.93L290.2 455.93Z" fill="#f80000"/>
<path d="M297.3 436.63L300.5 442.43L294.1 442.43Z" fill="#f80000"/>
<path d="M300.6 426.73L303.8 432.53L297.4 432.53Z" fill="#f80000"/>
<path d="M303.8 419.33L307 425.13L300.6 425.13Z" fill="#f80000"/>
<path d="M307.1 421.33L310.3 427.13L303.9 427.13Z" fill="#f80000"/>
<path d="M310.5 426.73L313.7 432.53L307.3 432.53Z" fill="#f80000"/>
<path d="M313.9 428.13L317.1 433.93L310.7 433.93Z" fill="#f80000"/>
<path d="M317.3 424.03L320.5 429.83L314.1 429.83Z" fill="#f80000"/>
<path d="M320.6 420.03L323.8 425.83L317.4 425.83Z" fill="#f80000"/>
<path d="M324 413.23L327.2 419.03L320.8 419.03Z" fill="#f80000"/>
<path d="M327.4 407.83L330.6 413.63L324.2 413.63Z" fill="#f80000"/>
<path d="M330.8 409.83L334 415.63L327.6 415.63Z" fill="#f80000"/>
<path d="M334.1 408.53L337.3 414.33L330.9 414.33Z" fill="#f80000"/>
<path d="M338.2 402.43L341.4 408.23L335 408.23Z" fill="#f80000"/>
<path d="M341.6 397.73L344.8 403.53L338.4 403.53Z" fill="#f80000"/>
<path d="M344.9 403.83L348.1 409.63L341.7 409.63Z" fill="#f80000"/>
<path d="M348.3 406.53L351.5 412.33L345.1 412.33Z" fill="#f80000"/>
<path d="M351.7 403.13L354.9 408.93L348.5 408.93Z" fill="#f80000"/>
<path d="M355.1 393.63L358.3 399.43L351.9 399.43Z" fill="#f80000"/>
<path d="M358.6 389.43L361.8 395.23L355.4 395.23Z" fill="#f80000"/>
<path d="M362.4 393.13L365.6 398.93L359.2 398.93Z" fill="#f80000"/>
<path d="M365.8 398.53L369 404.33L362.6 404.33Z" fill="#f80000"/>
<path d="M368.8 399.23L372 405.03L365.6 405.03Z" fill="#f80000"/>
<path d="M371.9 391.13L375.1 396.93L368.7 396.93Z" fill="#f80000"/>
<path d="M375.9 386.33L379.1 392.13L372.7 392.13Z" fill="#f80000"/>
<path d="M379.3 389.13L382.5 394.93L376.1 394.93Z" fill="#f80000"/>
<path d="M383.3 383.03L386.5 388.83L380.1 388.83Z" fill="#f80000"/>
<path d="M386.7 384.13L389.9 389.93L383.5 389.93Z" fill="#f80000"/>
<path d="M390.1 390.13L393.3 395.93L386.9 395.93Z" fill="#f80000"/>
<path d="M393.5 385.73L396.7 391.53L390.3 391.53Z" fill="#f80000"/>
<path d="M396.6 377.63L399.8 383.43L393.4 383.43Z" fill="#f80000"/>
<path d="M399.8 378.23L403 384.03L396.6 384.03Z" fill="#f80000"/>
<path d="M403.1 378.93L406.3 384.73L399.9 384.73Z" fill="#f80000"/>
<path d="M406.4 379.53L409.6 385.33L403.2 385.33Z" fill="#f80000"/>
<path d="M409.7 377.53L412.9 383.33L406.5 383.33Z" fill="#f80000"/>
<path d="M413 372.83L416.2 378.63L409.8 378.63Z" fill="#f80000"/>
<path d="M417.1 368.13L420.3 373.93L413.9 373.93Z" fill="#f80000"/>
<path d="M420.5 366.73L423.7 372.53L417.3 372.53Z" fill="#f80000"/>
<path d="M423.8 369.63L427 375.43L420.6 375.43Z" fill="#f80000"/>
<path d="M427.1 369.43L430.3 375.23L423.9 375.23Z" fill="#f80000"/>
<path d="M430.5 362.73L433.7 368.53L427.3 368.53Z" fill="#f80000"/>
<path d="M433.9 360.63L437.1 366.43L430.7 366.43Z" fill="#f80000"/>
<path d="M437.3 359.63L440.5 365.43L434.1 365.43Z" fill="#f80000"/>
<path d="M440.6 362.03L443.8 367.83L437.4 367.83Z" fill="#f80000"/>
<path d="M444 362.03L447.2 367.83L440.8 367.83Z" fill="#f80000"/>
<path d="M447.4 357.93L450.6 363.73L444.2 363.73Z" fill="#f80000"/>
<path d="M450.8 356.63L454 362.43L447.6 362.43Z" fill="#f80000"/>
<path d="M454.1 353.23L457.3 359.03L450.9 359.03Z" fill="#f80000"/>
<path d="M457.5 351.93L460.7 357.73L454.3 357.73Z" fill="#f80000"/>
<path d="M460.9 351.93L464.1 357.73L457.7 357.73Z" fill="#f80000"/>
<path d="M464.3 353.93L467.5 359.73L461.1 359.73Z" fill="#f80000"/>
<path d="M467.6 353.23L470.8 359.03L464.4 359.03Z" fill="#f80000"/>
<path d="M471 349.83L474.2 355.63L467.8 355.63Z" fill="#f80000"/>
<path d="M474.4 348.53L477.6 354.33L471.2 354.33Z" fill="#f80000"/>
<path d="M478.1 347.13L481.3 352.93L474.9 352.93Z" fill="#f80000"/>
<path d="M481.5 340.43L484.7 346.23L478.3 346.23Z" fill="#f80000"/>
<path d="M484.9 337.03L488.1 342.83L481.7 342.83Z" fill="#f80000"/>
<path d="M488.3 333.63L491.5 339.43L485.1 339.43Z" fill="#f80000"/>
<path d="M491.7 334.33L494.9 340.13L488.5 340.13Z" fill="#f80000"/>
<path d="M495.1 333.03L498.3 338.83L491.9 338.83Z" fill="#f80000"/>
<path d="M498.3 333.63L501.5 339.43L495.1 339.43Z" fill="#f80000"/>
</g>
<rect x="235.4" y="307.6" width="264.4" height="213.1" fill="none" stroke="#111" stroke-width="1.7"/>
<line x1="235.4" y1="520.7" x2="239.9" y2="520.7" stroke="#111" stroke-width="1.5"/>
<line x1="235.4" y1="481.3" x2="239.9" y2="481.3" stroke="#111" stroke-width="1.5"/>
<line x1="235.4" y1="441.9" x2="239.9" y2="441.9" stroke="#111" stroke-width="1.5"/>
<line x1="235.4" y1="402.5" x2="239.9" y2="402.5" stroke="#111" stroke-width="1.5"/>
<line x1="235.4" y1="363.1" x2="239.9" y2="363.1" stroke="#111" stroke-width="1.5"/>
<line x1="235.4" y1="323.7" x2="239.9" y2="323.7" stroke="#111" stroke-width="1.5"/>
<line x1="235.4" y1="501" x2="237.9" y2="501" stroke="#111" stroke-width="1.5"/>
<line x1="235.4" y1="461.6" x2="237.9" y2="461.6" stroke="#111" stroke-width="1.5"/>
<line x1="235.4" y1="422.2" x2="237.9" y2="422.2" stroke="#111" stroke-width="1.5"/>
<line x1="235.4" y1="382.8" x2="237.9" y2="382.8" stroke="#111" stroke-width="1.5"/>
<line x1="235.4" y1="343.4" x2="237.9" y2="343.4" stroke="#111" stroke-width="1.5"/>
<line x1="235.3" y1="520.7" x2="235.3" y2="516.2" stroke="#111" stroke-width="1.5"/>
<line x1="269.7" y1="520.7" x2="269.7" y2="516.2" stroke="#111" stroke-width="1.5"/>
<line x1="304.1" y1="520.7" x2="304.1" y2="516.2" stroke="#111" stroke-width="1.5"/>
<line x1="338.5" y1="520.7" x2="338.5" y2="516.2" stroke="#111" stroke-width="1.5"/>
<line x1="372.9" y1="520.7" x2="372.9" y2="516.2" stroke="#111" stroke-width="1.5"/>
<line x1="407.3" y1="520.7" x2="407.3" y2="516.2" stroke="#111" stroke-width="1.5"/>
<line x1="441.7" y1="520.7" x2="441.7" y2="516.2" stroke="#111" stroke-width="1.5"/>
<line x1="476.1" y1="520.7" x2="476.1" y2="516.2" stroke="#111" stroke-width="1.5"/>
<line x1="252.5" y1="520.7" x2="252.5" y2="518.2" stroke="#111" stroke-width="1.5"/>
<line x1="286.9" y1="520.7" x2="286.9" y2="518.2" stroke="#111" stroke-width="1.5"/>
<line x1="321.3" y1="520.7" x2="321.3" y2="518.2" stroke="#111" stroke-width="1.5"/>
<line x1="355.7" y1="520.7" x2="355.7" y2="518.2" stroke="#111" stroke-width="1.5"/>
<line x1="390.1" y1="520.7" x2="390.1" y2="518.2" stroke="#111" stroke-width="1.5"/>
<line x1="424.5" y1="520.7" x2="424.5" y2="518.2" stroke="#111" stroke-width="1.5"/>
<line x1="458.9" y1="520.7" x2="458.9" y2="518.2" stroke="#111" stroke-width="1.5"/>
<line x1="493.3" y1="520.7" x2="493.3" y2="518.2" stroke="#111" stroke-width="1.5"/>
<line x1="499.8" y1="513.47" x2="495.3" y2="513.47" stroke="#111" stroke-width="1.5"/>
<line x1="499.8" y1="484.1" x2="495.3" y2="484.1" stroke="#111" stroke-width="1.5"/>
<line x1="499.8" y1="454.73" x2="495.3" y2="454.73" stroke="#111" stroke-width="1.5"/>
<line x1="499.8" y1="425.36" x2="495.3" y2="425.36" stroke="#111" stroke-width="1.5"/>
<line x1="499.8" y1="395.99" x2="495.3" y2="395.99" stroke="#111" stroke-width="1.5"/>
<line x1="499.8" y1="366.62" x2="495.3" y2="366.62" stroke="#111" stroke-width="1.5"/>
<line x1="499.8" y1="337.25" x2="495.3" y2="337.25" stroke="#111" stroke-width="1.5"/>
<line x1="499.8" y1="307.88" x2="495.3" y2="307.88" stroke="#111" stroke-width="1.5"/>
<line x1="499.8" y1="498.79" x2="497.3" y2="498.79" stroke="#111" stroke-width="1.5"/>
<line x1="499.8" y1="469.42" x2="497.3" y2="469.42" stroke="#111" stroke-width="1.5"/>
<line x1="499.8" y1="440.05" x2="497.3" y2="440.05" stroke="#111" stroke-width="1.5"/>
<line x1="499.8" y1="410.68" x2="497.3" y2="410.68" stroke="#111" stroke-width="1.5"/>
<line x1="499.8" y1="381.31" x2="497.3" y2="381.31" stroke="#111" stroke-width="1.5"/>
<line x1="499.8" y1="351.94" x2="497.3" y2="351.94" stroke="#111" stroke-width="1.5"/>
<line x1="499.8" y1="322.56" x2="497.3" y2="322.56" stroke="#111" stroke-width="1.5"/>
<text x="230.5" y="525.1" font-size="13" font-weight="bold" text-anchor="end" fill="#000">-150</text>
<text x="230.5" y="485.7" font-size="13" font-weight="bold" text-anchor="end" fill="#000">-100</text>
<text x="230.5" y="446.3" font-size="13" font-weight="bold" text-anchor="end" fill="#000">-50</text>
<text x="230.5" y="406.9" font-size="13" font-weight="bold" text-anchor="end" fill="#000">0</text>
<text x="230.5" y="367.5" font-size="13" font-weight="bold" text-anchor="end" fill="#000">50</text>
<text x="230.5" y="328.1" font-size="13" font-weight="bold" text-anchor="end" fill="#000">100</text>
<text x="235.3" y="535.7" font-size="13" font-weight="bold" text-anchor="middle" fill="#000">0</text>
<text x="269.7" y="535.7" font-size="13" font-weight="bold" text-anchor="middle" fill="#000">10</text>
<text x="304.1" y="535.7" font-size="13" font-weight="bold" text-anchor="middle" fill="#000">20</text>
<text x="338.5" y="535.7" font-size="13" font-weight="bold" text-anchor="middle" fill="#000">30</text>
<text x="372.9" y="535.7" font-size="13" font-weight="bold" text-anchor="middle" fill="#000">40</text>
<text x="407.3" y="535.7" font-size="13" font-weight="bold" text-anchor="middle" fill="#000">50</text>
<text x="441.7" y="535.7" font-size="13" font-weight="bold" text-anchor="middle" fill="#000">60</text>
<text x="476.1" y="535.7" font-size="13" font-weight="bold" text-anchor="middle" fill="#000">70</text>
<text x="504.8" y="517.87" font-size="13" font-weight="bold" text-anchor="start" fill="#000">-20</text>
<text x="504.8" y="488.5" font-size="13" font-weight="bold" text-anchor="start" fill="#000">0</text>
<text x="504.8" y="459.13" font-size="13" font-weight="bold" text-anchor="start" fill="#000">20</text>
<text x="504.8" y="429.76" font-size="13" font-weight="bold" text-anchor="start" fill="#000">40</text>
<text x="504.8" y="400.39" font-size="13" font-weight="bold" text-anchor="start" fill="#000">60</text>
<text x="504.8" y="371.02" font-size="13" font-weight="bold" text-anchor="start" fill="#000">80</text>
<text x="504.8" y="341.65" font-size="13" font-weight="bold" text-anchor="start" fill="#000">100</text>
<text x="504.8" y="312.28" font-size="13" font-weight="bold" text-anchor="start" fill="#000">120</text>
<text x="367.4" y="556.6" font-size="13" font-weight="bold" text-anchor="middle" fill="#000">Time (ms)</text>
<text transform="translate(201.5 413.8) rotate(-90)" font-size="13" font-weight="bold" text-anchor="middle" fill="#000">Flame front speed (m/s)</text>
<text transform="translate(538.6 412.4) rotate(-90)" font-size="13" font-weight="bold" text-anchor="middle" fill="#000">Flame tip position (cm)</text>
<text x="365.9" y="590" font-size="20.5" font-weight="normal" text-anchor="middle" fill="#111">(c)</text>
<line x1="409.9" y1="475.5" x2="440.5" y2="475.5" stroke="#0000f4" stroke-width="1.6"/>
<circle cx="425.2" cy="475.5" r="3.1" fill="url(#gb)"/>
<text x="443.3" y="479.4" font-size="13" font-weight="normal" text-anchor="start" fill="#111">speed</text>
<line x1="409.9" y1="492.6" x2="440.5" y2="492.6" stroke="#f80000" stroke-width="1.6"/>
<path d="M425.2 489.07L428.2 494.37L422.2 494.37Z" fill="#f80000"/>
<text x="443.3" y="496.5" font-size="13" font-weight="normal" text-anchor="start" fill="#111">distance</text>
</svg>
</body></html>
